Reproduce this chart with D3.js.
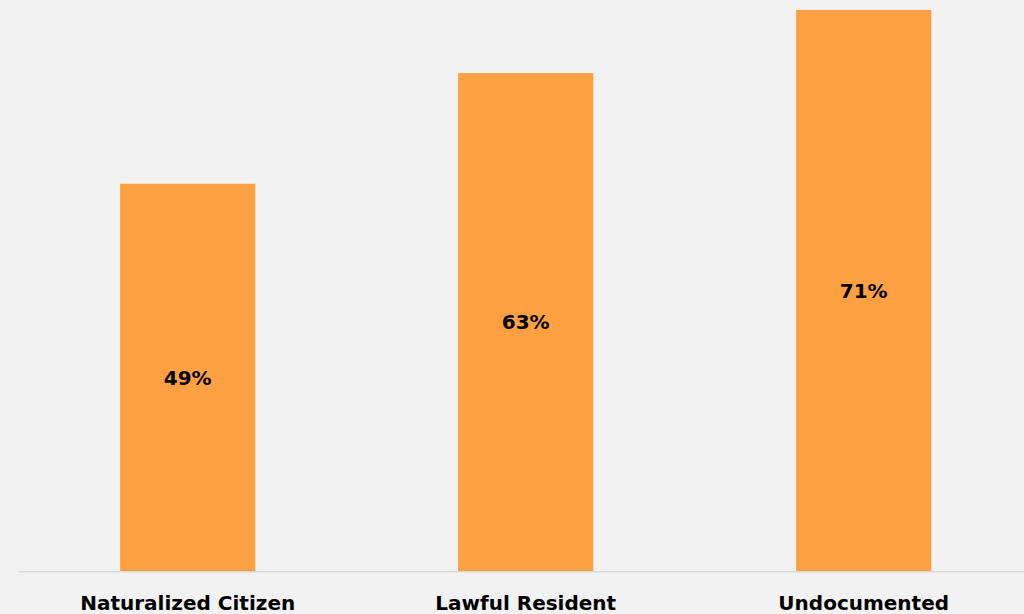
<!DOCTYPE html>
<html>
<head>
<meta charset="utf-8">
<script src="https://cdn.jsdelivr.net/npm/d3@7"></script>
<style>
  html, body { margin: 0; padding: 0; background: #f2f2f2; overflow: hidden; }
  svg { display: block; }
  text { font-family: "DejaVu Sans", sans-serif; font-weight: bold; fill: #000; }
</style>
</head>
<body>
<svg id="chart" width="1024" height="614"></svg>
<script>
const categories = ["Naturalized Citizen", "Lawful Resident", "Undocumented"];
const values = [49, 63, 71];
const valueLabels = ["49%", "63%", "71%"];

const W = 1024, H = 614;
const svg = d3.select("#chart");

svg.append("rect").attr("width", W).attr("height", H).attr("fill", "#f2f2f2");

const x = d3.scaleBand()
  .domain(categories)
  .range([18.7, 1032.7])
  .paddingInner(0.6)
  .paddingOuter(0.3);

const y = d3.scaleLinear().domain([0, 72]).range([571, 2]);

const data = categories.map((c, i) => ({ cat: c, value: values[i], label: valueLabels[i] }));

svg.append("g").selectAll("rect")
  .data(data)
  .join("rect")
  .attr("x", d => x(d.cat))
  .attr("y", d => y(d.value))
  .attr("width", x.bandwidth())
  .attr("height", d => y(0) - y(d.value))
  .attr("fill", "#ffa143");

// baseline axis
const axis = d3.axisBottom(x).tickSize(0).tickPadding(0);
const gx = svg.append("g").attr("transform", `translate(0,${y(0)})`).call(axis);
gx.select(".domain").attr("stroke", "#d9d9d9").attr("stroke-width", 1.6)
  .attr("d", `M19,0.8H${W}`);
gx.selectAll(".tick text")
  .attr("y", 39)
  .attr("dy", 0)
  .attr("font-size", 20)
  .style("font-family", "'DejaVu Sans', sans-serif")
  .style("font-weight", "bold")
  .attr("fill", "#000");

// value labels centred in each bar
svg.append("g").selectAll("text")
  .data(data)
  .join("text")
  .attr("x", d => x(d.cat) + x.bandwidth() / 2)
  .attr("y", d => (y(d.value) + y(0)) / 2)
  .attr("dy", "0.37em")
  .attr("text-anchor", "middle")
  .attr("font-size", 20)
  .text(d => d.label);
</script>
</body>
</html>
